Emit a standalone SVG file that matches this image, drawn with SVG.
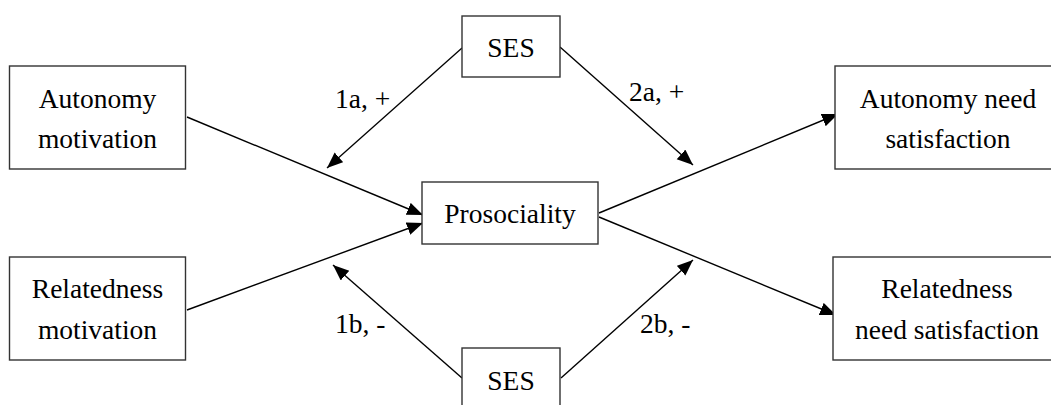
<svg xmlns="http://www.w3.org/2000/svg" width="1051" height="405" viewBox="0 0 1051 405" font-family="'Liberation Serif', 'DejaVu Serif', serif">
  <style>
    .box { fill: #ffffff; stroke: #333333; stroke-width: 1.4; }
    text { font-family: 'Liberation Serif', 'DejaVu Serif', serif; font-size: 27.5px; fill: #000000; }
    .mid { text-anchor: middle; }
    .edge { stroke: #000000; stroke-width: 1.4; fill: none; marker-end: url(#arrow); }
  </style>
  <defs>
    <marker id="arrow" markerUnits="userSpaceOnUse" markerWidth="17" markerHeight="14" refX="16" refY="6.5" orient="auto">
      <path d="M0,0 L16,6.5 L0,13 z" fill="#000000"/>
    </marker>
  </defs>
  <rect width="1051" height="405" fill="#ffffff"/>

  <!-- connectors and their path labels -->
  <g id="connectors">
    <line class="edge" x1="187" y1="117" x2="423" y2="215"/>
    <line class="edge" x1="187" y1="310" x2="423" y2="223"/>
    <line class="edge" x1="599" y1="213" x2="838" y2="114"/>
    <line class="edge" x1="599" y1="217" x2="836" y2="315"/>
    <line class="edge" x1="462" y1="48" x2="327" y2="168"/>
    <line class="edge" x1="560" y1="47" x2="693" y2="165"/>
    <line class="edge" x1="462" y1="378" x2="333" y2="265"/>
    <line class="edge" x1="561" y1="378" x2="693" y2="260"/>
    <text x="335" y="108">1a, +</text>
    <text x="629" y="101">2a, +</text>
    <text x="335" y="333">1b, -</text>
    <text x="640" y="333">2b, -</text>
  </g>

  <g id="autonomy-motivation">
    <rect class="box" x="9.5" y="66" width="176" height="103"/>
    <text class="mid" x="97.5" y="108">Autonomy</text>
    <text class="mid" x="97.5" y="148">motivation</text>
  </g>

  <g id="relatedness-motivation">
    <rect class="box" x="9.5" y="257" width="176" height="103"/>
    <text class="mid" x="97.5" y="298">Relatedness</text>
    <text class="mid" x="97.5" y="339">motivation</text>
  </g>

  <g id="ses-top">
    <rect class="box" x="462" y="16" width="98" height="61"/>
    <text class="mid" x="511" y="57">SES</text>
  </g>

  <g id="prosociality">
    <rect class="box" x="422" y="182" width="176" height="62"/>
    <text class="mid" x="510" y="223">Prosociality</text>
  </g>

  <g id="ses-bottom">
    <rect class="box" x="462" y="348" width="98" height="70"/>
    <text class="mid" x="511" y="390">SES</text>
  </g>

  <g id="autonomy-need-satisfaction">
    <rect class="box" x="835" y="66" width="228" height="103"/>
    <text class="mid" x="948" y="108">Autonomy need</text>
    <text class="mid" x="948" y="148">satisfaction</text>
  </g>

  <g id="relatedness-need-satisfaction">
    <rect class="box" x="833" y="257" width="228" height="103"/>
    <text class="mid" x="947" y="298">Relatedness</text>
    <text class="mid" x="947" y="339">need satisfaction</text>
  </g>
</svg>
